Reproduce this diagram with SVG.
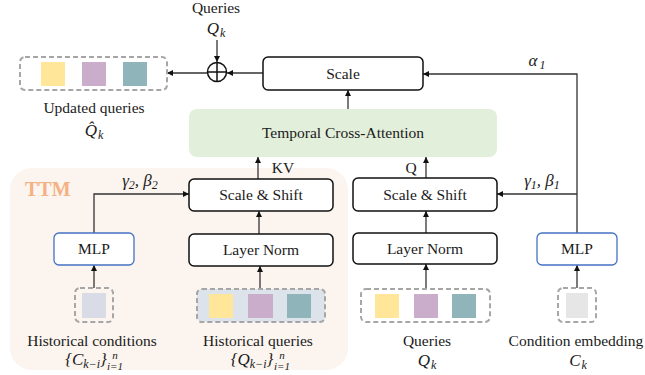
<svg xmlns="http://www.w3.org/2000/svg" width="645" height="375" viewBox="0 0 645 375" font-family="Liberation Serif, serif">
  <style>
    .lbl { font-size: 15.5px; fill: #1a1a1a; text-anchor: middle; }
    .math { font-style: italic; font-size: 17px; fill: #1a1a1a; text-anchor: middle; }
    .sub { font-size: 12px; }
    .tiny { font-size: 11px; }
    .box { fill: #ffffff; stroke: #111111; stroke-width: 1.5; }
    .mlp { fill: #ffffff; stroke: #4472C4; stroke-width: 1.3; }
    .dash { fill: none; stroke: #A6A6A6; stroke-width: 2; stroke-dasharray: 5 3; }
    .wire { fill: none; stroke: #333333; stroke-width: 1.3; }
    .yel { fill: #FFE699; }
    .pur { fill: #C9ADCB; }
    .teal { fill: #8FB5BA; }
  </style>
  <defs>
    <marker id="arrow" viewBox="0 0 10 10" refX="10" refY="5" markerWidth="6" markerHeight="6" markerUnits="userSpaceOnUse" orient="auto">
      <path d="M0,0 L10,5 L0,10 z" fill="#111111"/>
    </marker>
  </defs>

  <!-- TTM background panel -->
  <g id="ttm-panel">
    <rect x="10" y="168" width="338" height="202" rx="22" fill="#FBF4EF"/>
    <text x="25" y="196" font-weight="bold" font-size="20" fill="#F4B183">TTM</text>
  </g>

  <!-- connectors -->
  <g id="connectors">
    <line class="wire" x1="217" y1="40" x2="217" y2="62" marker-end="url(#arrow)"/>
    <line class="wire" x1="263" y1="73" x2="227" y2="73" marker-end="url(#arrow)"/>
    <line class="wire" x1="207" y1="73" x2="167" y2="73" marker-end="url(#arrow)"/>
    <line class="wire" x1="348" y1="109" x2="348" y2="90" marker-end="url(#arrow)"/>
    <line class="wire" x1="258" y1="179" x2="258" y2="157" marker-end="url(#arrow)"/>
    <line class="wire" x1="259" y1="234" x2="259" y2="211" marker-end="url(#arrow)"/>
    <line class="wire" x1="260" y1="289" x2="260" y2="266" marker-end="url(#arrow)"/>
    <line class="wire" x1="94" y1="288" x2="94" y2="265" marker-end="url(#arrow)"/>
    <polyline class="wire" points="94,233 94,194 189,194" marker-end="url(#arrow)"/>
    <line class="wire" x1="426" y1="178" x2="426" y2="157" marker-end="url(#arrow)"/>
    <line class="wire" x1="426" y1="233" x2="426" y2="211" marker-end="url(#arrow)"/>
    <line class="wire" x1="426" y1="289" x2="426" y2="264" marker-end="url(#arrow)"/>
    <line class="wire" x1="577" y1="288" x2="577" y2="265" marker-end="url(#arrow)"/>
    <polyline class="wire" points="577,233 577,74 423,74" marker-end="url(#arrow)"/>
    <line class="wire" x1="577" y1="194" x2="497" y2="194" marker-end="url(#arrow)"/>
  </g>

  <!-- adder -->
  <g id="adder">
    <circle cx="217" cy="72" r="9.5" fill="#ffffff" stroke="#111111" stroke-width="1.5"/>
    <line x1="207.5" y1="72" x2="226.5" y2="72" stroke="#111111" stroke-width="1.5"/>
    <line x1="217" y1="62.5" x2="217" y2="81.5" stroke="#111111" stroke-width="1.5"/>
  </g>

  <g id="queries-top">
    <text class="lbl" x="216" y="13">Queries</text>
    <text class="math" x="216" y="34">Q<tspan class="sub" dx="1" dy="3">k</tspan></text>
  </g>

  <g id="updated-queries">
    <rect class="dash" x="20" y="57" width="147" height="33" rx="5"/>
    <rect class="yel" x="41" y="62" width="24" height="24"/>
    <rect class="pur" x="82" y="62" width="24" height="24"/>
    <rect class="teal" x="123" y="62" width="24" height="24"/>
    <text class="lbl" x="94" y="113">Updated queries</text>
    <text class="math" x="94" y="136">Q̂<tspan class="sub" dx="1" dy="3">k</tspan></text>
  </g>

  <g id="scale">
    <rect class="box" x="263" y="57" width="160" height="33" rx="5"/>
    <text class="lbl" x="343" y="79">Scale</text>
  </g>

  <g id="cross-attention">
    <rect x="189" y="109" width="308" height="48" rx="8" fill="#E2EFDA"/>
    <text class="lbl" x="343" y="138">Temporal Cross-Attention</text>
  </g>

  <g id="alpha-label">
    <text class="math" x="537" y="66">α<tspan class="sub" dx="2" dy="3">1</tspan></text>
  </g>

  <g id="kv-label"><text class="lbl" x="283" y="173">KV</text></g>
  <g id="q-label"><text class="lbl" x="411" y="173">Q</text></g>

  <g id="scale-shift-hist">
    <rect class="box" x="189" y="179" width="144" height="32" rx="5"/>
    <text class="lbl" x="261" y="200">Scale &amp; Shift</text>
  </g>

  <g id="layer-norm-hist">
    <rect class="box" x="189" y="234" width="144" height="32" rx="5"/>
    <text class="lbl" x="261" y="255">Layer Norm</text>
  </g>

  <g id="mlp-hist">
    <rect class="mlp" x="54" y="233" width="80" height="32" rx="5"/>
    <text class="lbl" x="94" y="254">MLP</text>
  </g>

  <g id="gamma2-label">
    <text class="math" x="140" y="186">γ<tspan class="sub" dy="3">2</tspan><tspan dy="-3">, β</tspan><tspan class="sub" dy="3">2</tspan></text>
  </g>

  <g id="historical-conditions">
    <rect class="dash" x="75" y="288" width="38" height="34" rx="5"/>
    <rect x="82" y="293" width="24" height="25" fill="#D9DCE6"/>
    <text class="lbl" x="92" y="346">Historical conditions</text>
    <text class="math" x="86" y="365">{C<tspan class="sub" dy="3">k−i</tspan><tspan dy="-3">}</tspan></text>
    <text class="math tiny" x="115" y="370" text-anchor="start">i=1</text>
    <text class="math tiny" x="115" y="359" text-anchor="start">n</text>
  </g>

  <g id="historical-queries">
    <rect x="197" y="289" width="128" height="33" rx="5" fill="#DCE3EA"/>
    <rect class="dash" x="197" y="289" width="128" height="33" rx="5"/>
    <rect class="yel" x="209" y="294" width="24" height="24"/>
    <rect class="pur" x="248" y="294" width="25" height="24"/>
    <rect class="teal" x="287" y="294" width="24" height="24"/>
    <text class="lbl" x="258" y="346">Historical queries</text>
    <text class="math" x="252" y="365">{Q<tspan class="sub" dy="3">k−i</tspan><tspan dy="-3">}</tspan></text>
    <text class="math tiny" x="282" y="370" text-anchor="start">i=1</text>
    <text class="math tiny" x="282" y="359" text-anchor="start">n</text>
  </g>

  <g id="scale-shift-cur">
    <rect class="box" x="353" y="178" width="144" height="33" rx="5"/>
    <text class="lbl" x="425" y="200">Scale &amp; Shift</text>
  </g>

  <g id="layer-norm-cur">
    <rect class="box" x="353" y="233" width="144" height="31" rx="5"/>
    <text class="lbl" x="425" y="254">Layer Norm</text>
  </g>

  <g id="queries-cur">
    <rect class="dash" x="361" y="289" width="129" height="33" rx="5"/>
    <rect class="yel" x="375" y="294" width="24" height="24"/>
    <rect class="pur" x="414" y="294" width="24" height="24"/>
    <rect class="teal" x="452" y="294" width="24" height="24"/>
    <text class="lbl" x="427" y="346">Queries</text>
    <text class="math" x="427" y="366">Q<tspan class="sub" dx="1" dy="3">k</tspan></text>
  </g>

  <g id="gamma1-label">
    <text class="math" x="542" y="186">γ<tspan class="sub" dy="3">1</tspan><tspan dy="-3">, β</tspan><tspan class="sub" dy="3">1</tspan></text>
  </g>

  <g id="mlp-cond">
    <rect class="mlp" x="537" y="233" width="80" height="32" rx="5"/>
    <text class="lbl" x="577" y="254">MLP</text>
  </g>

  <g id="condition-embedding">
    <rect class="dash" x="558" y="288" width="38" height="34" rx="5"/>
    <rect x="566" y="293" width="22" height="25" fill="#E6E6E6"/>
    <text class="lbl" x="576" y="346">Condition embedding</text>
    <text class="math" x="578" y="366">C<tspan class="sub" dx="1" dy="3">k</tspan></text>
  </g>
</svg>
